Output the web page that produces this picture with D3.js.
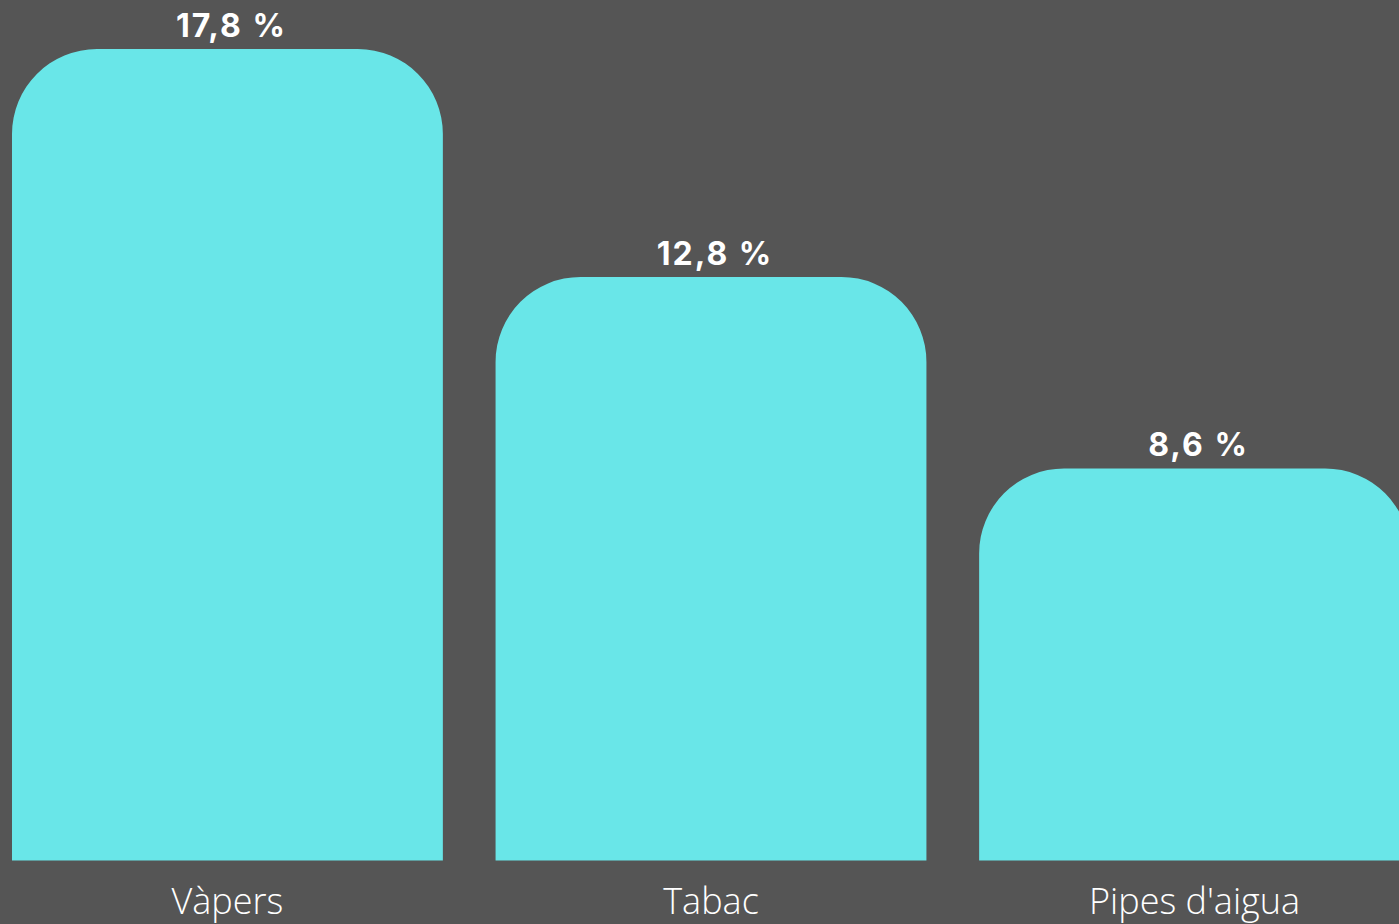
<!DOCTYPE html>
<html>
<head>
<meta charset="utf-8">
<script src="https://cdn.jsdelivr.net/npm/d3@7"></script>
<style>
  html, body { margin: 0; padding: 0; background: #555555; overflow: hidden; }
  svg { display: block; }
</style>
</head>
<body>
<svg id="chart" width="1399" height="924"></svg>
<script>
const categories = ["Vàpers", "Tabac", "Pipes d'aigua"];
const values = [17.8, 12.8, 8.6];
const valueLabels = ["17,8 %", "12,8 %", "8,6 %"];

const W = 1399, H = 924;
const svg = d3.select("#chart");
svg.append("rect").attr("width", W).attr("height", H).attr("fill", "#555555");

const x = d3.scaleBand().domain(categories).range([12, 1410]).paddingInner(0.109).paddingOuter(0);
const y = d3.scaleLinear().domain([0, 17.8]).range([860.5, 49]);

const r = 85;
function barPath(x0, y0, w, yb) {
  const rr = Math.min(r, w / 2, yb - y0);
  return `M${x0},${yb}V${y0 + rr}A${rr},${rr} 0 0 1 ${x0 + rr},${y0}H${x0 + w - rr}A${rr},${rr} 0 0 1 ${x0 + w},${y0 + rr}V${yb}Z`;
}

const data = categories.map((c, i) => ({ c, v: values[i], l: valueLabels[i] }));

svg.selectAll("path.bar").data(data).join("path")
  .attr("class", "bar")
  .attr("fill", "#69E6E8")
  .attr("d", d => barPath(x(d.c), y(d.v), x.bandwidth(), y(0)));

svg.selectAll("text.val").data(data).join("text")
  .attr("class", "val")
  .attr("x", d => x(d.c) + x.bandwidth() / 2 + 4)
  .attr("y", d => y(d.v) - 12)
  .attr("text-anchor", "middle")
  .attr("fill", "#ffffff")
  .attr("font-family", "Inter, Lato, sans-serif")
  .attr("font-weight", 700)
  .attr("font-size", 32)
  .attr("letter-spacing", 2)
  .text(d => d.l);

svg.selectAll("text.cat").data(data).join("text")
  .attr("class", "cat")
  .attr("x", d => x(d.c) + x.bandwidth() / 2)
  .attr("y", 914)
  .attr("text-anchor", "middle")
  .attr("fill", "#ffffff")
  .attr("font-family", "'Open Sans', sans-serif")
  .attr("font-weight", 300)
  .attr("font-size", 36)
  .text(d => d.c);
</script>
</body>
</html>
